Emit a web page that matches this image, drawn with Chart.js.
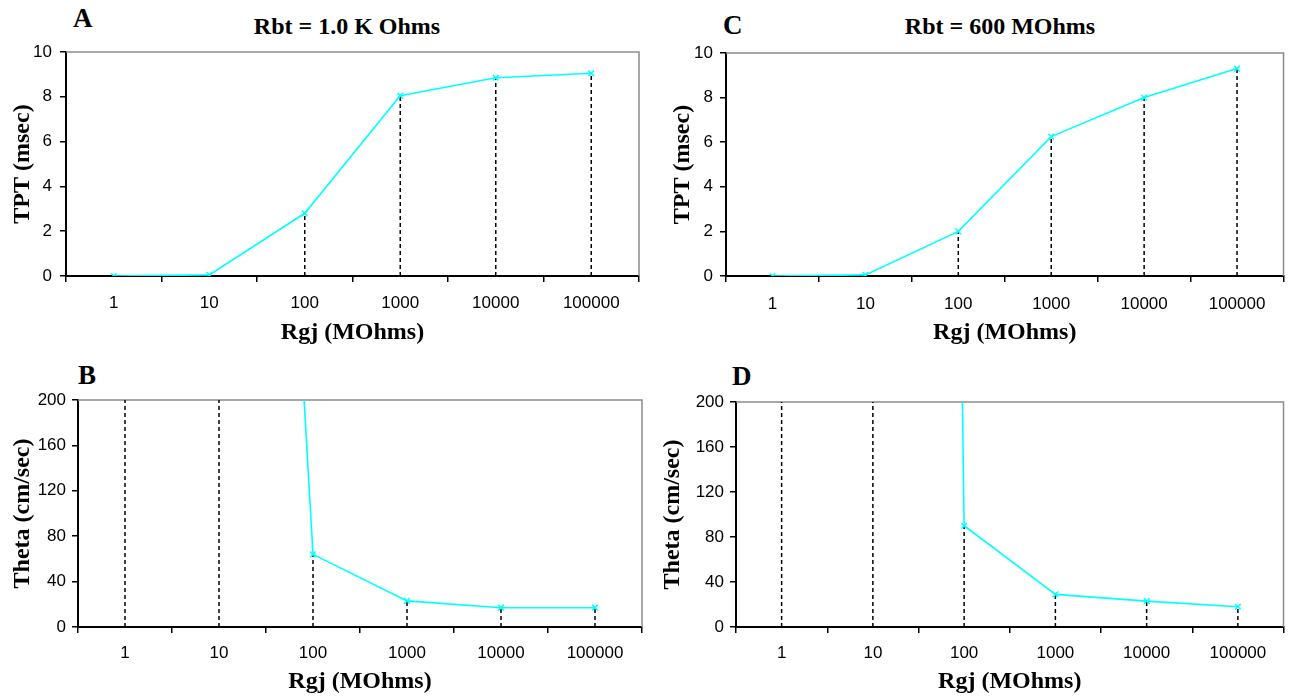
<!DOCTYPE html>
<html>
<head>
<meta charset="utf-8">
<script src="https://cdn.jsdelivr.net/npm/chart.js@4.4.1/dist/chart.umd.min.js"></script>
<style>
body { margin:0; background:#fff; width:1289px; height:696px; position:relative; overflow:hidden; }
canvas { position:absolute; }
.lbl { position:absolute; font-family:"Liberation Serif", "Times New Roman", serif; font-weight:bold; color:#000; line-height:1; white-space:nowrap; }
</style>
</head>
<body>
<div class="lbl" style="left:73px;top:5px;font-size:27px">A</div>
<div class="lbl" style="left:347px;top:14px;font-size:24px;transform:translateX(-50%)">Rbt = 1.0 K Ohms</div>
<div class="lbl" style="left:723px;top:12px;font-size:27px">C</div>
<div class="lbl" style="left:1000px;top:14px;font-size:24px;transform:translateX(-50%)">Rbt = 600 MOhms</div>
<div class="lbl" style="left:78px;top:362px;font-size:27px">B</div>
<div class="lbl" style="left:732px;top:363px;font-size:27px">D</div>

<canvas id="panelA" width="650" height="350" style="left:0;top:0"></canvas>
<canvas id="panelB" width="650" height="346" style="left:0;top:350px"></canvas>
<canvas id="panelC" width="639" height="350" style="left:650px;top:0"></canvas>
<canvas id="panelD" width="639" height="346" style="left:650px;top:350px"></canvas>

<script>
// Rgj categories (MOhms)
const rgjLabels = ['1', '10', '100', '1000', '10000', '100000'];

// TPT (msec)
const tptA = [0, 0.05, 2.8, 8.05, 8.85, 9.05];
const tptC = [0, 0.05, 2.0, 6.25, 8.0, 9.3];

// Theta (cm/sec) - values at 1 and 10 are off the top of the plot
const thetaB = [3000, 1500, 64, 23, 17, 17];
const thetaD = [9000, 6000, 90, 29, 23, 18];

// labelled y ticks
const tptTicks = [0, 2, 4, 6, 8, 10];
const thetaTicks = [0, 40, 80, 120, 160, 200];

const cyan = '#00ffff';

const plotFrame = {
    id: 'plotFrame',
    beforeDatasetsDraw(chart) {
        const { ctx, chartArea: a } = chart;
        ctx.save();
        ctx.strokeStyle = '#8c8c8c';
        ctx.lineWidth = 1.5;
        ctx.beginPath();
        ctx.moveTo(a.left, a.top);
        ctx.lineTo(a.right, a.top);
        ctx.lineTo(a.right, a.bottom);
        ctx.stroke();
        ctx.restore();
    }
};

const makePanel = (id, values, yMax, yStep, tickLabels, yTitle, box) => {
    // dashed drop lines from each point to the axis
    const dropLines = values.map((v, i) => ({
        data: [{ x: rgjLabels[i], y: 0 }, { x: rgjLabels[i], y: v }],
        borderColor: '#000',
        borderWidth: 1.5,
        borderDash: [4, 3],
        pointRadius: 0,
        order: 2
    }));

    new Chart(document.getElementById(id), {
        type: 'line',
        data: {
            labels: rgjLabels,
            datasets: [{
                data: values,
                borderColor: cyan,
                borderWidth: 1.6,
                pointStyle: 'crossRot',
                pointRadius: 4,
                pointBorderColor: cyan,
                pointBorderWidth: 1.5,
                tension: 0,
                order: 1
            }, ...dropLines]
        },
        options: {
            responsive: false,
            animation: false,
            events: [],
            layout: { padding: box.padding },
            plugins: {
                legend: { display: false },
                tooltip: { enabled: false }
            },
            scales: {
                x: {
                    type: 'category',
                    offset: true,
                    grid: { offset: true, drawOnChartArea: false, tickLength: 6, color: '#000', lineWidth: 1.5 },
                    border: { color: '#000', width: 2 },
                    ticks: {
                        autoSkip: false, maxRotation: 0, padding: box.xTickPad,
                        color: '#000', font: { family: 'Liberation Sans, Arial', size: 17 }
                    },
                    title: {
                        display: true, text: 'Rgj (MOhms)', color: '#000',
                        padding: { top: 0, bottom: box.xTitlePad },
                        font: { family: 'Liberation Serif, Times New Roman', size: 24, weight: 'bold' }
                    },
                    afterFit: s => { s.height = box.xHeight; }
                },
                y: {
                    min: 0,
                    max: yMax,
                    grid: { drawOnChartArea: false, tickLength: 6, color: '#000', lineWidth: 1.5 },
                    border: { color: '#000', width: 2 },
                    ticks: {
                        stepSize: yStep, padding: box.yTickPad,
                        color: '#000', font: { family: 'Liberation Sans, Arial', size: 17 },
                        callback: v => tickLabels.includes(v) ? String(v) : ''
                    },
                    title: {
                        display: true, text: yTitle, color: '#000',
                        padding: { top: 0, bottom: 0 },
                        font: { family: 'Liberation Serif, Times New Roman', size: 24, weight: 'bold' }
                    },
                    afterFit: s => { s.width = box.yWidth; }
                }
            }
        },
        plugins: [plotFrame]
    });
};

makePanel('panelA', tptA, 10, 1, tptTicks, 'TPT (msec)',
    { padding: { left: 8, top: 52, right: 11, bottom: 0 }, yWidth: 58, xHeight: 74, yTickPad: 8, xTickPad: 11, xTitlePad: 3 });
makePanel('panelB', thetaB, 200, 20, thetaTicks, 'Theta (cm/sec)',
    { padding: { left: 8, top: 50, right: 8, bottom: 0 }, yWidth: 70, xHeight: 69, yTickPad: 6, xTickPad: 10, xTitlePad: 0 });
makePanel('panelC', tptC, 10, 1, tptTicks, 'TPT (msec)',
    { padding: { left: 18, top: 53, right: 2, bottom: 0 }, yWidth: 58, xHeight: 74, yTickPad: 7, xTickPad: 12, xTitlePad: 3 });
makePanel('panelD', thetaD, 200, 20, thetaTicks, 'Theta (cm/sec)',
    { padding: { left: 8, top: 52, right: 1, bottom: 0 }, yWidth: 78, xHeight: 69, yTickPad: 6, xTickPad: 10, xTitlePad: 0 });
</script>
</body>
</html>
